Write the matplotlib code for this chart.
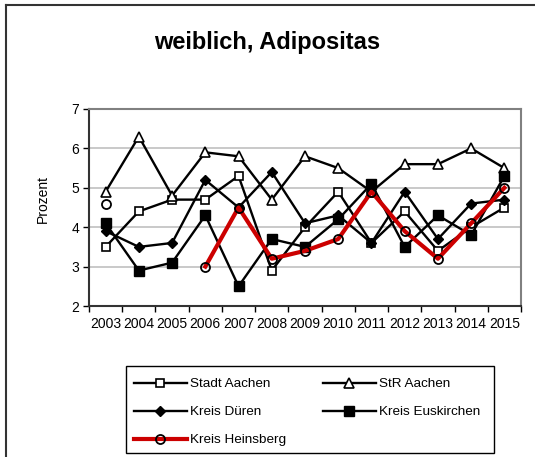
import matplotlib.pyplot as plt
import matplotlib.lines as mlines
import matplotlib.patches as mpatches
import numpy as np

plt.rcParams['font.family'] = ['Liberation Sans', 'DejaVu Sans']

jahre = ['2003', '2004', '2005', '2006', '2007', '2008', '2009',
         '2010', '2011', '2012', '2013', '2014', '2015']

stadt_aachen = [3.5, 4.4, 4.7, 4.7, 5.3, 2.9, 4.0, 4.9, 3.6, 4.4, 3.4, 4.0, 4.5]
str_aachen = [4.9, 6.3, 4.8, 5.9, 5.8, 4.7, 5.8, 5.5, 4.9, 5.6, 5.6, 6.0, 5.5]
kreis_dueren = [3.9, 3.5, 3.6, 5.2, 4.5, 5.4, 4.1, 4.3, 3.6, 4.9, 3.7, 4.6, 4.7]
kreis_euskirchen = [4.1, 2.9, 3.1, 4.3, 2.5, 3.7, 3.5, 4.2, 5.1, 3.5, 4.3, 3.8, 5.3]
# 2004 und 2005 fehlen fuer Heinsberg
kreis_heinsberg = [4.6, np.nan, np.nan, 3.0, 4.5, 3.2, 3.4, 3.7, 4.9, 3.9, 3.2, 4.1, 5.0]

W, H = 535, 457
fig = plt.figure(figsize=(W / 100, H / 100), dpi=100)

# Rahmen um das ganze Diagramm
fig.add_artist(mlines.Line2D([6 / W, 6 / W], [0, 1 - 5 / H], color='#333333', lw=1.5))
fig.add_artist(mlines.Line2D([6 / W, 1], [1 - 5 / H, 1 - 5 / H], color='#333333', lw=1.5))

ax = fig.add_axes([89 / W, 1 - 306 / H, (521 - 89) / W, (306 - 109) / H])
x = np.arange(len(jahre))

lw = 1.7
ax.plot(x, stadt_aachen, color='black', lw=lw, marker='s', ms=5.5,
        mfc='white', mec='black', mew=1.2, label='Stadt Aachen')
ax.plot(x, str_aachen, color='black', lw=lw, marker='^', ms=6.5,
        mfc='white', mec='black', mew=1.2, label='StR Aachen')
ax.plot(x, kreis_dueren, color='black', lw=lw, marker='D', ms=5,
        mfc='black', mec='black', label='Kreis Düren')
ax.plot(x, kreis_euskirchen, color='black', lw=lw, marker='s', ms=6.5,
        mfc='black', mec='black', label='Kreis Euskirchen')
ax.plot(x, kreis_heinsberg, color='#cc0000', lw=3, marker='o', ms=6.5,
        mfc='none', mec='black', mew=1.3, label='Kreis Heinsberg')

ax.set_xlim(-0.5, len(jahre) - 0.5)
ax.set_ylim(2, 7)
ax.set_yticks([2, 3, 4, 5, 6, 7])
ax.yaxis.grid(True, color='#c0c0c0', lw=1.2)
ax.set_axisbelow(True)

# Jahreszahlen mittig, Teilstriche zwischen den Kategorien
ax.set_xticks(x)
ax.set_xticklabels(jahre)
ax.set_xticks(np.arange(-0.5, len(jahre)), minor=True)
ax.tick_params(axis='x', which='major', length=0, pad=8, labelsize=10)
ax.tick_params(axis='x', which='minor', length=4, width=1, direction='out')
ax.tick_params(axis='y', length=4, width=1, direction='out', pad=3, labelsize=10)

for s in ['left', 'bottom']:
    ax.spines[s].set_color('#333333')
    ax.spines[s].set_linewidth(1.5)
for s in ['top', 'right']:
    ax.spines[s].set_color('#808080')
    ax.spines[s].set_linewidth(1.5)

fig.text(267 / W, 1 - 42 / H, 'weiblich, Adipositas', ha='center', va='center',
         fontsize=17, fontweight='bold')
fig.text(43 / W, 1 - 199 / H, 'Prozent', ha='center', va='center',
         rotation=90, fontsize=10)

# Legende ohne eigenen Rahmen, Kasten separat gezeichnet
handles, labels = ax.get_legend_handles_labels()
reihenfolge = [0, 2, 4, 1, 3]
fig.legend([handles[i] for i in reihenfolge], [labels[i] for i in reihenfolge],
           ncol=2, loc='upper left', bbox_to_anchor=(134 / W, 1 - 378 / H),
           borderaxespad=0, borderpad=0, fontsize=9.7, frameon=False,
           handlelength=3.9, handletextpad=0.25, columnspacing=2.75,
           labelspacing=1.15)
fig.add_artist(mpatches.Rectangle((126 / W, 1 - 453 / H), (494 - 126) / W, (453 - 366) / H,
                                  transform=fig.transFigure, fill=False,
                                  edgecolor='black', lw=1.0))

fig.savefig('out.png', dpi=100)
